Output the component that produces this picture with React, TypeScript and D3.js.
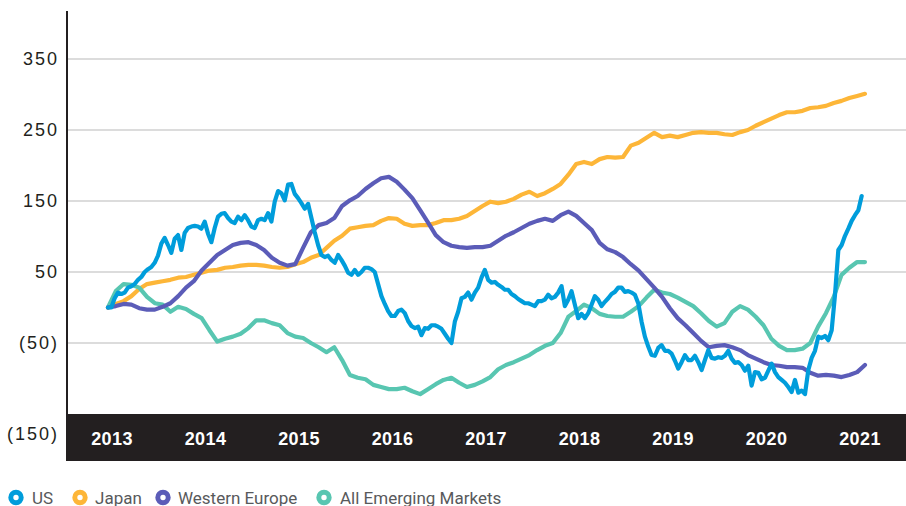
import React from "react";
import * as d3 from "d3";

// ---- data ----
const yearTicks = [2013, 2014, 2015, 2016, 2017, 2018, 2019, 2020, 2021];
const yTicks = [350, 250, 150, 50, -50, -150];

const seriesNames = ["US", "Japan", "Western Europe", "All Emerging Markets"];

const startT = 2012.957;
const endTMonthly = 2021.053;
const endTUS = 2021.018;

const usValues = [0,0,13,21,19,21,28,30,33,39,43,50,54,57,63,73,90,98,88,77,97,102,81,105,112,114,115,114,111,121,104,92,112,128,132,133,126,121,119,128,123,130,123,114,112,123,125,123,133,121,149,164,161,151,173,174,160,154,147,139,146,126,106,88,74,71,73,67,63,74,67,59,49,46,53,46,50,56,56,54,50,33,16,5,-5,-12,-12,-5,-3,-8,-19,-26,-29,-27,-39,-29,-30,-25,-25,-27,-30,-37,-44,-50,-20,-6,13,15,21,11,21,28,42,53,39,35,36,32,29,25,25,19,16,12,9,6,6,4,2,9,9,11,18,13,15,21,30,2,11,23,4,-15,-9,-15,-8,4,16,11,2,8,13,19,22,28,28,22,23,21,18,6,-20,-41,-55,-67,-68,-57,-53,-61,-61,-65,-75,-86,-77,-67,-74,-74,-68,-77,-88,-74,-60,-71,-72,-70,-71,-68,-61,-72,-78,-77,-81,-89,-82,-110,-91,-92,-101,-99,-89,-79,-91,-98,-102,-106,-112,-119,-102,-120,-117,-122,-88,-71,-61,-41,-43,-40,-46,-32,18,81,88,101,111,122,130,137,157];

const japanValues = [0,5,9,16,26,33,35,37,39,42,43,46,49,52,53,56,57,59,60,60,59,57,56,57,61,64,70,74,84,94,101,111,113,115,116,122,126,125,118,115,116,116,119,123,123,125,129,136,143,149,147,149,153,159,163,157,161,167,174,187,202,205,202,209,212,211,212,228,232,239,246,240,242,240,243,246,247,246,246,244,243,247,250,256,261,266,271,275,275,277,281,282,284,288,291,295,298,301];

const westernEuropeValues = [0,2,5,4,-1,-3,-3,1,6,16,28,37,52,63,74,81,88,91,92,88,81,70,63,59,61,84,106,116,119,126,143,151,157,167,175,182,184,177,166,154,137,120,102,92,87,85,84,85,85,87,94,101,106,112,118,122,125,122,130,135,129,119,109,91,82,78,71,61,52,40,28,15,-1,-15,-25,-36,-47,-56,-54,-53,-56,-60,-67,-72,-77,-81,-82,-84,-84,-85,-92,-96,-95,-96,-98,-95,-91,-81];

const emergingValues = [0,23,33,32,28,15,6,4,-6,1,-2,-9,-15,-32,-48,-44,-41,-37,-29,-18,-18,-22,-25,-36,-41,-43,-50,-56,-63,-56,-74,-95,-99,-101,-109,-112,-115,-115,-113,-118,-122,-115,-108,-102,-99,-106,-112,-109,-104,-98,-87,-81,-77,-72,-67,-60,-54,-50,-36,-13,-5,4,-1,-9,-12,-13,-13,-6,2,14,25,21,19,14,8,2,-8,-19,-27,-22,-6,2,-3,-13,-25,-44,-54,-60,-60,-58,-50,-27,-8,15,46,56,64,64];

const COLORS: Record<string, string> = {
  US: "#009ddb",
  Japan: "#fdb638",
  "Western Europe": "#5b5cb8",
  "All Emerging Markets": "#58c6b1",
};

// ---- layout ----
const W = 906;
const H = 506;
const AXIS_X = 67;
const RIGHT = 906;
const BAND_TOP = 414;
const BAND_BOTTOM = 461;

const xScale = d3.scaleLinear().domain([2013, 2021]).range([112, 860]);
const yScale = d3.scaleLinear().domain([-150, 350]).range([414, 59]);

function fmt(v: number) {
  return v < 0 ? `(${Math.abs(v)})` : `${v}`;
}

function makePath(values: number[], t0: number, t1: number) {
  const step = (t1 - t0) / (values.length - 1);
  const line = d3
    .line<number>()
    .x((_, i) => xScale(t0 + i * step))
    .y((d) => yScale(d))
    .curve(d3.curveLinear);
  return line(values) || "";
}

const drawOrder = [
  { name: "Japan", values: japanValues, end: endTMonthly },
  { name: "All Emerging Markets", values: emergingValues, end: endTMonthly },
  { name: "Western Europe", values: westernEuropeValues, end: endTMonthly },
  { name: "US", values: usValues, end: endTUS },
];

const legendLayout = [
  { cx: 16, tx: 32 },
  { cx: 80, tx: 95 },
  { cx: 163, tx: 178 },
  { cx: 324, tx: 340 },
];

export default function App() {
  return (
    <svg
      width={W}
      height={H}
      style={{ position: "absolute", left: 0, top: 0, background: "#fff" }}
    >
      {/* gridlines */}
      {yTicks.slice(0, 5).map((v) => (
        <line
          key={"g" + v}
          x1={AXIS_X + 1}
          x2={RIGHT}
          y1={yScale(v)}
          y2={yScale(v)}
          stroke="#dcdcdc"
          strokeWidth={2}
        />
      ))}
      {/* y tick labels */}
      {yTicks.map((v) => (
        <text
          key={"yl" + v}
          x={59}
          y={v === -150 ? 434 : yScale(v)}
          dy="0.36em"
          textAnchor="end"
          fontFamily="'Liberation Sans', Arial, sans-serif"
          fontSize={18}
          letterSpacing={2}
          fill="#231f20"
        >
          {fmt(v)}
        </text>
      ))}
      {/* bottom band */}
      <rect
        x={AXIS_X}
        y={BAND_TOP}
        width={RIGHT - AXIS_X}
        height={BAND_BOTTOM - BAND_TOP}
        fill="#231f20"
      />
      {yearTicks.map((yr) => (
        <text
          key={"x" + yr}
          x={xScale(yr)}
          y={445}
          textAnchor="middle"
          fontFamily="'Liberation Sans', Arial, sans-serif"
          fontWeight="bold"
          fontSize={18}
          letterSpacing={0.4}
          fill="#ffffff"
        >
          {yr}
        </text>
      ))}
      {/* y axis line */}
      <line
        x1={AXIS_X}
        x2={AXIS_X}
        y1={11}
        y2={BAND_BOTTOM}
        stroke="#231f20"
        strokeWidth={2}
      />
      {/* series */}
      {drawOrder.map((s) => (
        <path
          key={s.name}
          d={makePath(s.values, startT, s.end)}
          fill="none"
          stroke={COLORS[s.name]}
          strokeWidth={4.2}
          strokeLinejoin="round"
          strokeLinecap="round"
        />
      ))}
      {/* legend */}
      {seriesNames.map((name, i) => (
        <g key={"lg" + name}>
          <circle
            cx={legendLayout[i].cx}
            cy={497.5}
            r={5.2}
            fill="#fff"
            stroke={COLORS[name]}
            strokeWidth={5}
          />
          <text
            x={legendLayout[i].tx}
            y={503.5}
            fontFamily="Roboto, 'Noto Sans', sans-serif"
            fontSize={17}
            fill="#58595b"
          >
            {name}
          </text>
        </g>
      ))}
    </svg>
  );
}
